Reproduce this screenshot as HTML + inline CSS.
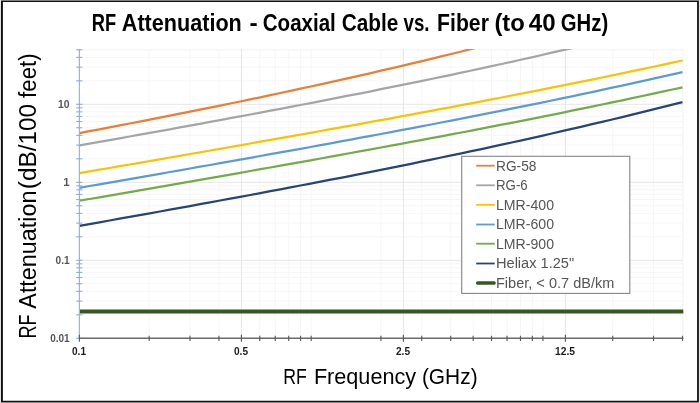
<!DOCTYPE html>
<html lang="en"><head><meta charset="utf-8"><title>RF Attenuation - Coaxial Cable vs. Fiber</title>
<style>html,body{margin:0;padding:0;background:#fff}body{width:700px;height:403px;overflow:hidden}svg{display:block}text{font-family:"Liberation Sans",sans-serif}</style>
</head><body>
<svg width="700" height="403" viewBox="0 0 700 403">
<rect x="0" y="0" width="700" height="403" fill="#fff"/>
<rect x="0" y="0" width="700" height="1" fill="#808080"/>
<rect x="0" y="402" width="700" height="1" fill="#888"/>
<rect x="0" y="0" width="1" height="403" fill="#e4e4e4"/>
<rect x="699" y="0" width="1" height="403" fill="#e4e4e4"/>
<path d="M1 1H698.9V401.9H1Z M2.9 2.05V400.8H697.1V2.05Z" fill="#111" fill-rule="evenodd"/>
<path d="M79.40 314.82H683.00M79.40 301.08H683.00M79.40 291.34H683.00M79.40 283.78H683.00M79.40 277.60H683.00M79.40 272.38H683.00M79.40 267.86H683.00M79.40 263.87H683.00M79.40 236.82H683.00M79.40 223.08H683.00M79.40 213.34H683.00M79.40 205.78H683.00M79.40 199.60H683.00M79.40 194.38H683.00M79.40 189.86H683.00M79.40 185.87H683.00M79.40 158.82H683.00M79.40 145.08H683.00M79.40 135.34H683.00M79.40 127.78H683.00M79.40 121.60H683.00M79.40 116.38H683.00M79.40 111.86H683.00M79.40 107.87H683.00M79.40 80.82H683.00M79.40 67.08H683.00M79.40 57.34H683.00M79.40 49.78H683.00M79.40 49.78H683.00M149.17 49.40V338.20M189.98 49.40V338.20M218.94 49.40V338.20M259.75 49.40V338.20M275.27 49.40V338.20M288.71 49.40V338.20M300.56 49.40V338.20M311.17 49.40V338.20M380.94 49.40V338.20M421.75 49.40V338.20M450.71 49.40V338.20M473.17 49.40V338.20M491.52 49.40V338.20M507.04 49.40V338.20M520.48 49.40V338.20M532.33 49.40V338.20M542.94 49.40V338.20M612.71 49.40V338.20M653.52 49.40V338.20M682.48 49.40V338.20M683.00 49.40V338.20" stroke="#f6f6f6" stroke-width="1" fill="none"/>
<path d="M79.40 338.30H683.00M79.40 260.30H683.00M79.40 182.30H683.00M79.40 104.30H683.00M241.40 49.40V338.20M403.40 49.40V338.20M565.40 49.40V338.20" stroke="#e6e6e6" stroke-width="1" fill="none"/>
<clipPath id="c"><rect x="78.40" y="49.10" width="605.20" height="289.80"/></clipPath>
<g clip-path="url(#c)" fill="none" stroke-width="2.25" stroke-linecap="butt" stroke-linejoin="round">
<polyline points="79.4,133.1 89.5,131.2 99.5,129.3 109.6,127.4 119.6,125.4 129.7,123.5 139.7,121.6 149.8,119.6 159.8,117.6 169.9,115.7 179.9,113.7 190.0,111.7 200.0,109.7 210.1,107.6 220.1,105.6 230.2,103.5 240.2,101.5 250.3,99.4 260.3,97.3 270.4,95.2 280.4,93.0 290.5,90.9 300.5,88.7 310.6,86.5 320.6,84.3 330.7,82.1 340.7,79.9 350.8,77.6 360.8,75.4 370.9,73.1 380.9,70.7 391.0,68.4 401.0,66.1 411.1,63.7 421.1,61.3 431.2,58.9 441.2,56.4 451.3,54.0 461.4,51.5 471.4,49.0 481.5,46.5 491.5,44.0 501.6,41.4 511.6,38.8" stroke="#ED7D31"/>
<polyline points="79.4,145.4 89.5,143.7 99.5,141.9 109.6,140.1 119.6,138.3 129.7,136.5 139.7,134.7 149.8,132.9 159.8,131.1 169.9,129.3 179.9,127.4 190.0,125.6 200.0,123.8 210.1,121.9 220.1,120.1 230.2,118.2 240.2,116.4 250.3,114.5 260.3,112.6 270.4,110.7 280.4,108.8 290.5,106.9 300.5,105.0 310.6,103.1 320.6,101.1 330.7,99.2 340.7,97.2 350.8,95.2 360.8,93.3 370.9,91.3 380.9,89.2 391.0,87.2 401.0,85.2 411.1,83.1 421.1,81.1 431.2,79.0 441.2,76.9 451.3,74.8 461.4,72.6 471.4,70.5 481.5,68.3 491.5,66.2 501.6,64.0 511.6,61.8 521.7,59.5 531.7,57.3 541.8,55.0 551.8,52.7 561.9,50.4 571.9,48.1 582.0,45.7 592.0,43.4 602.1,41.0" stroke="#A5A5A5"/>
<polyline points="79.4,173.1 89.5,171.4 99.5,169.7 109.6,168.0 119.6,166.2 129.7,164.5 139.7,162.8 149.8,161.0 159.8,159.3 169.9,157.5 179.9,155.8 190.0,154.0 200.0,152.3 210.1,150.5 220.1,148.8 230.2,147.0 240.2,145.3 250.3,143.5 260.3,141.7 270.4,139.9 280.4,138.2 290.5,136.4 300.5,134.6 310.6,132.8 320.6,131.0 330.7,129.2 340.7,127.4 350.8,125.6 360.8,123.8 370.9,121.9 380.9,120.1 391.0,118.3 401.0,116.4 411.1,114.6 421.1,112.7 431.2,110.8 441.2,108.9 451.3,107.1 461.4,105.2 471.4,103.3 481.5,101.3 491.5,99.4 501.6,97.5 511.6,95.5 521.7,93.6 531.7,91.6 541.8,89.6 551.8,87.6 561.9,85.6 571.9,83.6 582.0,81.6 592.0,79.6 602.1,77.5 612.1,75.4 622.2,73.3 632.2,71.2 642.3,69.1 652.3,67.0 662.4,64.8 672.4,62.7 682.5,60.5" stroke="#FFC000"/>
<polyline points="79.4,187.8 89.5,186.0 99.5,184.3 109.6,182.6 119.6,180.8 129.7,179.1 139.7,177.3 149.8,175.6 159.8,173.8 169.9,172.0 179.9,170.3 190.0,168.5 200.0,166.7 210.1,165.0 220.1,163.2 230.2,161.4 240.2,159.6 250.3,157.8 260.3,156.0 270.4,154.2 280.4,152.4 290.5,150.6 300.5,148.8 310.6,147.0 320.6,145.1 330.7,143.3 340.7,141.4 350.8,139.6 360.8,137.7 370.9,135.9 380.9,134.0 391.0,132.1 401.0,130.2 411.1,128.3 421.1,126.4 431.2,124.5 441.2,122.5 451.3,120.6 461.4,118.6 471.4,116.7 481.5,114.7 491.5,112.7 501.6,110.7 511.6,108.7 521.7,106.7 531.7,104.6 541.8,102.6 551.8,100.5 561.9,98.4 571.9,96.3 582.0,94.2 592.0,92.1 602.1,89.9 612.1,87.7 622.2,85.6 632.2,83.4 642.3,81.1 652.3,78.9 662.4,76.6 672.4,74.4 682.5,72.1" stroke="#5B9BD5"/>
<polyline points="79.4,200.7 89.5,199.0 99.5,197.3 109.6,195.6 119.6,193.8 129.7,192.1 139.7,190.3 149.8,188.6 159.8,186.9 169.9,185.1 179.9,183.4 190.0,181.6 200.0,179.9 210.1,178.1 220.1,176.3 230.2,174.6 240.2,172.8 250.3,171.0 260.3,169.2 270.4,167.5 280.4,165.7 290.5,163.9 300.5,162.1 310.6,160.3 320.6,158.5 330.7,156.7 340.7,154.9 350.8,153.0 360.8,151.2 370.9,149.4 380.9,147.5 391.0,145.7 401.0,143.8 411.1,141.9 421.1,140.1 431.2,138.2 441.2,136.3 451.3,134.4 461.4,132.5 471.4,130.6 481.5,128.6 491.5,126.7 501.6,124.7 511.6,122.8 521.7,120.8 531.7,118.8 541.8,116.8 551.8,114.8 561.9,112.8 571.9,110.7 582.0,108.7 592.0,106.6 602.1,104.5 612.1,102.4 622.2,100.3 632.2,98.2 642.3,96.0 652.3,93.9 662.4,91.7 672.4,89.5 682.5,87.3" stroke="#70AD47"/>
<polyline points="79.4,225.8 89.5,224.1 99.5,222.3 109.6,220.5 119.6,218.7 129.7,216.9 139.7,215.1 149.8,213.3 159.8,211.5 169.9,209.7 179.9,207.9 190.0,206.1 200.0,204.2 210.1,202.4 220.1,200.5 230.2,198.7 240.2,196.8 250.3,195.0 260.3,193.1 270.4,191.2 280.4,189.3 290.5,187.4 300.5,185.5 310.6,183.6 320.6,181.7 330.7,179.7 340.7,177.8 350.8,175.8 360.8,173.8 370.9,171.8 380.9,169.8 391.0,167.8 401.0,165.8 411.1,163.8 421.1,161.7 431.2,159.6 441.2,157.5 451.3,155.4 461.4,153.3 471.4,151.2 481.5,149.1 491.5,146.9 501.6,144.7 511.6,142.5 521.7,140.3 531.7,138.1 541.8,135.8 551.8,133.5 561.9,131.2 571.9,128.9 582.0,126.6 592.0,124.2 602.1,121.9 612.1,119.5 622.2,117.1 632.2,114.6 642.3,112.2 652.3,109.7 662.4,107.2 672.4,104.7 682.5,102.2" stroke="#264478"/>
</g>
<line x1="79.40" y1="311.5" x2="683.30" y2="311.5" stroke="#375623" stroke-width="3.9"/>
<path d="M79.40 48.90V338.20" stroke="#9ab3e4" stroke-width="1.2" fill="none"/>
<path d="M76.10 338.30H82.40M76.10 314.82H82.40M76.10 301.08H82.40M76.10 291.34H82.40M76.10 283.78H82.40M76.10 277.60H82.40M76.10 272.38H82.40M76.10 267.86H82.40M76.10 263.87H82.40M76.10 260.30H82.40M76.10 236.82H82.40M76.10 223.08H82.40M76.10 213.34H82.40M76.10 205.78H82.40M76.10 199.60H82.40M76.10 194.38H82.40M76.10 189.86H82.40M76.10 185.87H82.40M76.10 182.30H82.40M76.10 158.82H82.40M76.10 145.08H82.40M76.10 135.34H82.40M76.10 127.78H82.40M76.10 121.60H82.40M76.10 116.38H82.40M76.10 111.86H82.40M76.10 107.87H82.40M76.10 104.30H82.40M76.10 80.82H82.40M76.10 67.08H82.40M76.10 57.34H82.40M76.10 49.78H82.40" stroke="#88a6df" stroke-width="1" fill="none"/>
<path d="M78.90 338.20H683.50" stroke="#6c6c6c" stroke-width="1.5" fill="none"/>
<path d="M79.40 335.80V341.00M149.17 335.80V341.00M189.98 335.80V341.00M218.94 335.80V341.00M241.40 335.80V341.00M259.75 335.80V341.00M275.27 335.80V341.00M288.71 335.80V341.00M300.56 335.80V341.00M311.17 335.80V341.00M380.94 335.80V341.00M421.75 335.80V341.00M450.71 335.80V341.00M473.17 335.80V341.00M491.52 335.80V341.00M507.04 335.80V341.00M520.48 335.80V341.00M532.33 335.80V341.00M542.94 335.80V341.00M612.71 335.80V341.00M653.52 335.80V341.00M682.48 335.80V341.00M79.40 334.80V341.80M241.40 334.80V341.80M403.40 334.80V341.80M565.40 334.80V341.80" stroke="#5c5c5c" stroke-width="1.15" fill="none"/>
<g font-size="10.3" font-weight="700" fill="#555" lengthAdjust="spacingAndGlyphs">
<text x="58.10" y="107.90" textLength="11.5" lengthAdjust="spacingAndGlyphs">10</text>
<text x="63.30" y="185.90" textLength="6.3" lengthAdjust="spacingAndGlyphs">1</text>
<text x="55.50" y="263.90" textLength="14.1" lengthAdjust="spacingAndGlyphs">0.1</text>
<text x="50.20" y="341.90" textLength="19.4" lengthAdjust="spacingAndGlyphs">0.01</text>
</g>
<g font-size="10.3" font-weight="700" fill="#1c1c1c">
<text x="72.00" y="355.2" textLength="14.0" lengthAdjust="spacingAndGlyphs">0.1</text>
<text x="233.95" y="355.2" textLength="14.1" lengthAdjust="spacingAndGlyphs">0.5</text>
<text x="395.95" y="355.2" textLength="14.1" lengthAdjust="spacingAndGlyphs">2.5</text>
<text x="555.00" y="355.2" textLength="20.0" lengthAdjust="spacingAndGlyphs">12.5</text>
</g>
<text y="30.6" font-size="23.2" font-weight="700" fill="#000"><tspan x="91.80" textLength="24.40" lengthAdjust="spacingAndGlyphs">RF</tspan> <tspan x="121.80" textLength="120.00" lengthAdjust="spacingAndGlyphs">Attenuation</tspan> <tspan x="249.40" textLength="8.20" lengthAdjust="spacingAndGlyphs">-</tspan> <tspan x="262.80" textLength="73.00" lengthAdjust="spacingAndGlyphs">Coaxial</tspan> <tspan x="341.80" textLength="56.60" lengthAdjust="spacingAndGlyphs">Cable</tspan> <tspan x="403.50" textLength="26.00" lengthAdjust="spacingAndGlyphs">vs.</tspan> <tspan x="437.10" textLength="51.80" lengthAdjust="spacingAndGlyphs">Fiber</tspan> <tspan x="494.40" textLength="30.40" lengthAdjust="spacingAndGlyphs">(to</tspan> <tspan x="528.80" textLength="26.80" lengthAdjust="spacingAndGlyphs">40</tspan> <tspan x="560.80" textLength="47.40" lengthAdjust="spacingAndGlyphs">GHz)</tspan></text>
<text y="383.9" font-size="22.8" fill="#000"><tspan x="283.30" textLength="23.60" lengthAdjust="spacingAndGlyphs">RF</tspan> <tspan x="313.90" textLength="102.20" lengthAdjust="spacingAndGlyphs">Frequency</tspan> <tspan x="421.90" textLength="55.70" lengthAdjust="spacingAndGlyphs">(GHz)</tspan></text>
<text transform="translate(35.8 0) rotate(-90)" y="0" font-size="23.3" fill="#000"><tspan x="-338.40" textLength="23.90" lengthAdjust="spacingAndGlyphs">RF</tspan> <tspan x="-308.70" textLength="118.10" lengthAdjust="spacingAndGlyphs">Attenuation</tspan> <tspan x="-189.20" textLength="85.20" lengthAdjust="spacingAndGlyphs">(dB/100</tspan> <tspan x="-97.90" textLength="44.50" lengthAdjust="spacingAndGlyphs">feet)</tspan></text>
<rect x="461.7" y="156.3" width="168.1" height="137.1" fill="#fff" stroke="#858585" stroke-width="1.1"/>
<line x1="476.2" y1="165.70" x2="494.7" y2="165.70" stroke="#ED7D31" stroke-width="1.8"/>
<text x="496" y="170.65" font-size="13.8" fill="#555" textLength="40.4" lengthAdjust="spacingAndGlyphs">RG-58</text>
<line x1="476.2" y1="185.30" x2="494.7" y2="185.30" stroke="#A5A5A5" stroke-width="1.8"/>
<text x="496" y="190.25" font-size="13.8" fill="#555" textLength="31.7" lengthAdjust="spacingAndGlyphs">RG-6</text>
<line x1="476.2" y1="204.80" x2="494.7" y2="204.80" stroke="#FFC000" stroke-width="1.8"/>
<text x="496" y="209.75" font-size="13.8" fill="#555" textLength="58.0" lengthAdjust="spacingAndGlyphs">LMR-400</text>
<line x1="476.2" y1="224.50" x2="494.7" y2="224.50" stroke="#5B9BD5" stroke-width="1.8"/>
<text x="496" y="229.45" font-size="13.8" fill="#555" textLength="58.0" lengthAdjust="spacingAndGlyphs">LMR-600</text>
<line x1="476.2" y1="243.70" x2="494.7" y2="243.70" stroke="#70AD47" stroke-width="1.8"/>
<text x="496" y="248.65" font-size="13.8" fill="#555" textLength="58.0" lengthAdjust="spacingAndGlyphs">LMR-900</text>
<line x1="476.2" y1="263.50" x2="494.7" y2="263.50" stroke="#264478" stroke-width="1.8"/>
<text x="496" y="268.45" font-size="13.8" fill="#555" textLength="78.1" lengthAdjust="spacingAndGlyphs">Heliax 1.25"</text>
<line x1="477.6" y1="283.00" x2="494.2" y2="283.00" stroke="#375623" stroke-width="3.3" stroke-linecap="round"/>
<text x="496" y="287.95" font-size="13.8" fill="#555" textLength="118.3" lengthAdjust="spacingAndGlyphs">Fiber, &lt; 0.7 dB/km</text>
</svg>
</body></html>
